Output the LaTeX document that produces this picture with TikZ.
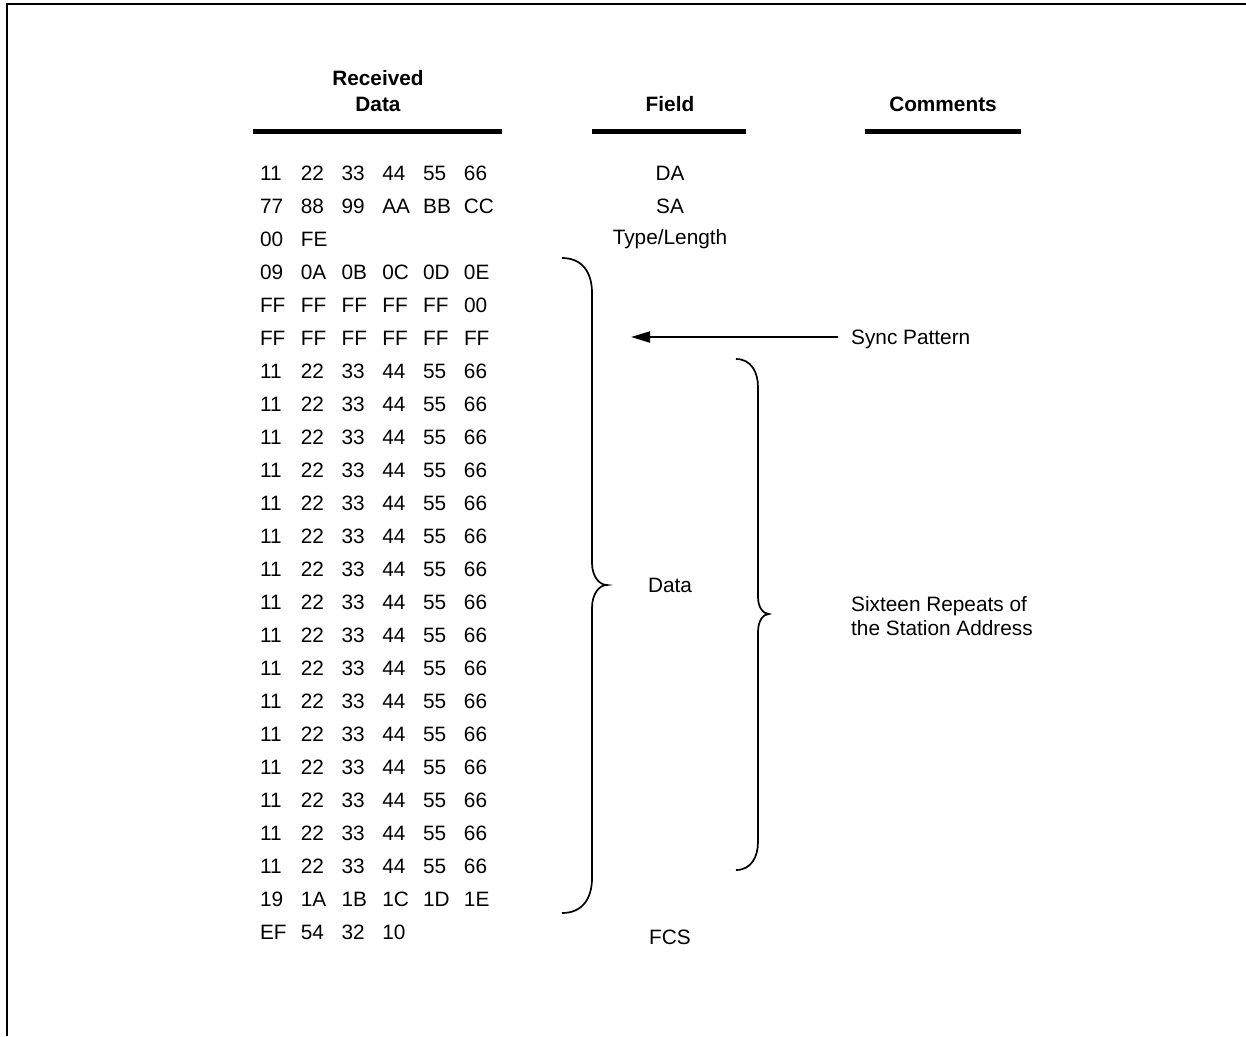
\documentclass[tikz,border=0pt]{standalone}
\usepackage{fontspec}
\setmainfont{Liberation Sans}
\usetikzlibrary{arrows.meta,positioning}

\newcommand{\hexcell}[1]{\makebox[40.8pt][l]{#1}}
\newcommand{\hexrow}[6]{\hexcell{#1}\hexcell{#2}\hexcell{#3}\hexcell{#4}\hexcell{#5}\hexcell{#6}}

\begin{document}
\begin{tikzpicture}[
        x=1pt, y=-1pt,
        node distance=17.6pt,
        every node/.style={inner sep=0pt, font=\fontsize{20.8}{24}\selectfont},
        txt/.style={text height=15pt, text depth=0pt},
        row/.style={txt},
        heading/.style={font=\fontsize{20.8}{26}\selectfont\bfseries, align=center},
        rule/.style={line width=4.7pt},
        bracket/.style={line width=1.7pt}
    ]
    \useasboundingbox (0,0) rectangle (1246,1036);

    % Frame
    \draw[line width=2.2pt] (6.7,1036) -- (6.7,4.2) -- (1246,4.2);

    % Headings
    \node (recv) [heading] at (378,91) {Received\\Data};
    \node (field) [heading, txt] at (670,104) {Field};
    \node (comm) [heading, txt] at (943,104) {Comments};
    \draw[rule] (253,131.7) -- (502,131.7);
    \draw[rule] (592,131.7) -- (746,131.7);
    \draw[rule] (865,131.7) -- (1021,131.7);

    % Received bytes
    \node (r1) [row] at (382.4,173) {\hexrow{11}{22}{33}{44}{55}{66}};
    \node (r2) [row, below=of r1] {\hexrow{77}{88}{99}{AA}{BB}{CC}};
    \node (r3) [row, below=of r2] {\hexrow{00}{FE}{}{}{}{}};
    \node (r4) [row, below=of r3] {\hexrow{09}{0A}{0B}{0C}{0D}{0E}};
    \node (r5) [row, below=of r4] {\hexrow{FF}{FF}{FF}{FF}{FF}{00}};
    \node (r6) [row, below=of r5] {\hexrow{FF}{FF}{FF}{FF}{FF}{FF}};
    \node (r7) [row, below=of r6] {\hexrow{11}{22}{33}{44}{55}{66}};
    \node (r8) [row, below=of r7] {\hexrow{11}{22}{33}{44}{55}{66}};
    \node (r9) [row, below=of r8] {\hexrow{11}{22}{33}{44}{55}{66}};
    \node (r10) [row, below=of r9] {\hexrow{11}{22}{33}{44}{55}{66}};
    \node (r11) [row, below=of r10] {\hexrow{11}{22}{33}{44}{55}{66}};
    \node (r12) [row, below=of r11] {\hexrow{11}{22}{33}{44}{55}{66}};
    \node (r13) [row, below=of r12] {\hexrow{11}{22}{33}{44}{55}{66}};
    \node (r14) [row, below=of r13] {\hexrow{11}{22}{33}{44}{55}{66}};
    \node (r15) [row, below=of r14] {\hexrow{11}{22}{33}{44}{55}{66}};
    \node (r16) [row, below=of r15] {\hexrow{11}{22}{33}{44}{55}{66}};
    \node (r17) [row, below=of r16] {\hexrow{11}{22}{33}{44}{55}{66}};
    \node (r18) [row, below=of r17] {\hexrow{11}{22}{33}{44}{55}{66}};
    \node (r19) [row, below=of r18] {\hexrow{11}{22}{33}{44}{55}{66}};
    \node (r20) [row, below=of r19] {\hexrow{11}{22}{33}{44}{55}{66}};
    \node (r21) [row, below=of r20] {\hexrow{11}{22}{33}{44}{55}{66}};
    \node (r22) [row, below=of r21] {\hexrow{11}{22}{33}{44}{55}{66}};
    \node (r23) [row, below=of r22] {\hexrow{19}{1A}{1B}{1C}{1D}{1E}};
    \node (r24) [row, below=of r23] {\hexrow{EF}{54}{32}{10}{}{}};

    % Fields
    \node (da) [txt] at (r1 -| field) {DA};
    \node (sa) [txt] at (r2 -| field) {SA};
    \node (tl) [txt] at (670,237) {Type/Length};
    \node (data) [txt] at (670,585) {Data};
    \node (fcs) [txt] at (670,937) {FCS};

    % Comments
    \node (sync) [txt, anchor=west, inner xsep=13pt] at (838,337) {Sync Pattern};
    \node (repeats) [anchor=west, align=left] at (851,616) {Sixteen Repeats of\\the Station Address};
    \coordinate (synctip) at (631,337);

    % Brackets
    \draw[bracket] (562,258) .. controls (582,258) and (592,272) .. (592,293) -- (592,563)
        .. controls (592,576) and (599,585) .. (607,585)
        .. controls (599,585) and (592,594) .. (592,608) -- (592,878)
        .. controls (592,899) and (582,913) .. (562,913);
    \draw[bracket] (736,359) .. controls (751,359) and (758,372) .. (758,387) -- (758,597)
        .. controls (758,607) and (763,614) .. (769,614)
        .. controls (763,614) and (758,621) .. (758,632) -- (758,842)
        .. controls (758,857) and (751,870) .. (736,870);

    % Edges
    \draw[line width=2pt, -{Triangle[length=19pt,width=11pt]}] (sync.west) -- (synctip);

\end{tikzpicture}
\end{document}
